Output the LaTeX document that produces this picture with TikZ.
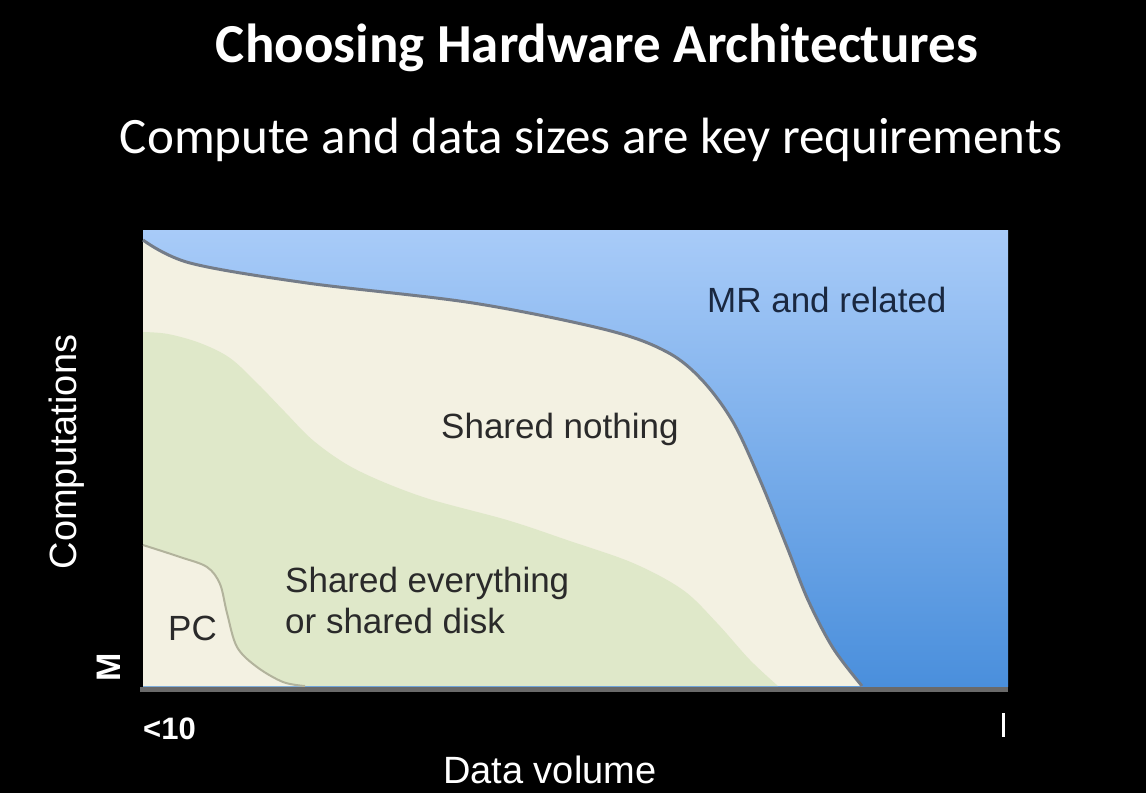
\documentclass[tikz,border=0pt]{standalone}
\usepackage{fontspec}
\usepackage{graphicx}
\setmainfont{Liberation Sans}
\newfontfamily\titlefont{Carlito}
\definecolor{creamfill}{HTML}{F3F1E2}
\definecolor{greenfill}{HTML}{DFE8C9}
\definecolor{bluetop}{HTML}{A8CBF8}
\definecolor{bluebottom}{HTML}{4A8FDC}
\definecolor{edgegray}{HTML}{747C88}
\definecolor{pcedge}{HTML}{B2B39C}
\definecolor{axisgray}{HTML}{6A6A6A}
\definecolor{navytext}{HTML}{1A2840}
\definecolor{darktext}{HTML}{2A2A2A}
\tikzset{
  heading/.style={white, inner sep=0pt},
  arealabel/.style={inner sep=0pt, anchor=base west, font=\fontsize{35}{41}\selectfont},
  axislabel/.style={white, inner sep=0pt, font=\fontsize{38}{44}\selectfont},
  tick/.style={white, inner sep=0pt, font=\fontsize{31}{35}\selectfont\bfseries},
}
\begin{document}
\begin{tikzpicture}[x=1pt, y=-1pt]
  % page
  \fill[black] (0,0) rectangle (1146,793);
  \useasboundingbox (0,0) rectangle (1146,793);

  % headings
  \node[heading, anchor=base] (title) at (597,62)
    {\resizebox{762pt}{!}{\titlefont\bfseries Choosing Hardware Architectures}};
  \node[heading, anchor=base] (subtitle) at (591,153)
    {\resizebox{942pt}{!}{\titlefont Compute and data sizes are key requirements}};

  % chart background: MR region with vertical gradient
  \shade[top color=bluetop, bottom color=bluebottom] (143,230) rectangle (1008,686);

  % shared nothing region
  \fill[creamfill] (143,686) -- (143,240) -- plot[smooth, tension=0.55] coordinates {
      (143,240) (190,263) (307,283) (473,303) (607,330) (667,352) (702,380)
      (733,422) (760,480) (787,547) (808,600) (833,648) (862,686)} -- cycle;
  \draw[edgegray, line width=3pt] plot[smooth, tension=0.55] coordinates {
      (143,240) (190,263) (307,283) (473,303) (607,330) (667,352) (702,380)
      (733,422) (760,480) (787,547) (808,600) (833,648) (862,686)};

  % shared everything region
  \fill[greenfill] (143,686) -- (143,332) -- plot[smooth, tension=0.55] coordinates {
      (143,332) (168,334) (200,343) (230,358) (258,384) (285,412) (315,442)
      (357,470) (423,497) (507,520) (567,540) (633,563) (683,590) (717,623)
      (750,660) (778,686)} -- cycle;

  % PC region
  \fill[creamfill] (143,686) -- (143,545) -- plot[smooth, tension=0.55] coordinates {
      (143,545) (180,557) (207,567) (220,584) (227,613) (237,647) (257,667)
      (283,682) (305,686)} -- cycle;
  \draw[pcedge, line width=2pt] plot[smooth, tension=0.55] coordinates {
      (143,545) (180,557) (207,567) (220,584) (227,613) (237,647) (257,667)
      (283,682) (305,686)};

  % horizontal axis
  \draw[axisgray, line width=5pt] (140,689) -- (1008,689);

  % area labels
  \node[arealabel, navytext] (mr) at (707,312) {MR and related};
  \node[arealabel, darktext] (sn) at (441,438) {Shared nothing};
  \node[arealabel, darktext] (se1) at (285,592) {Shared everything};
  \node[arealabel, darktext] (se2) at (285,633) {or shared disk};
  \node[arealabel, darktext] (pc) at (168,640) {PC};

  % axis labels
  \node[axislabel, rotate=90] (ylab) at (67,452) {Computations};
  \node[axislabel, anchor=base west] (xlab) at (443,783) {Data volume};
  \node[tick, rotate=90, font=\fontsize{34}{38}\selectfont\bfseries] (ytick) at (109,667) {M};
  \begin{scope}
    \clip (138,700) rectangle (198,750);
    \node[tick, anchor=base west] (xtick) at (143,739) {<10};
  \end{scope}
  \fill[white] (1002,713) rectangle (1005,737);
\end{tikzpicture}
\end{document}
